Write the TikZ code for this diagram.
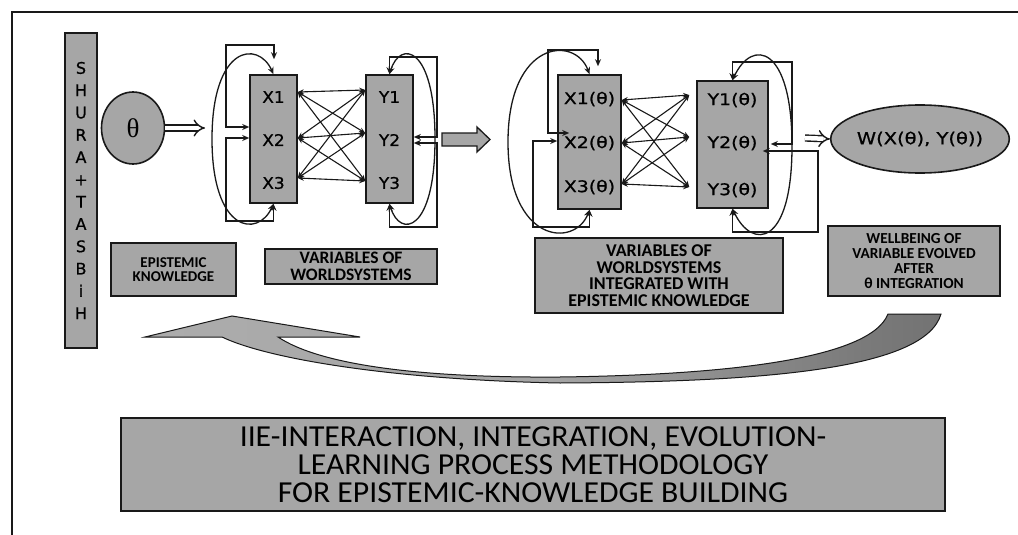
\documentclass[tikz,border=0pt]{standalone}
\usepackage{fontspec}
\setmainfont{Carlito}
\newfontfamily\titlefont[FakeStretch=1.04]{Carlito}
\newfontfamily\lettfont[FakeBold=0.8]{DejaVu Sans}
\newfontfamily\varfont[FakeStretch=1.06,FakeBold=0.8]{DejaVu Sans}
\newfontfamily\thetafont[FakeStretch=1.18,FakeBold=0.8]{DejaVu Sans}
\newfontfamily\serfont{Liberation Serif}
\usetikzlibrary{arrows.meta,shapes.geometric,calc}

\definecolor{boxgray}{RGB}{166,166,166}
\definecolor{inkline}{RGB}{25,25,25}
\pgfdeclarehorizontalshading{loopshade}{100bp}{color(0bp)=(black!30); color(50bp)=(black!35); color(70bp)=(black!52); color(100bp)=(black!70)}

\tikzset{
  gbox/.style={draw=inkline, line width=1.6pt, fill=boxgray},
  caption/.style={gbox, align=center, inner sep=0pt},
  varlab/.style={font=\varfont\fontsize{16}{18}\selectfont, inner sep=0pt},
  thlab/.style={font=\thetafont\fontsize{16}{18}\selectfont, inner sep=0pt},
  wire/.style={draw=inkline, line width=1.3pt},
  tip/.tip={Stealth[length=7pt,width=6pt]},
  bi/.style={wire, tip-tip},
  cross/.style={wire, line width=1.1pt, {Stealth[length=6pt,width=5pt]}-{Stealth[length=6pt,width=5pt]}},
  hollow/.style={draw=inkline, double=white, double distance=4.5pt, line width=1.4pt, -{Implies}},
}

\begin{document}
\begin{tikzpicture}[x=1pt,y=-1pt]
\useasboundingbox (0,0) rectangle (1018,535);
\fill[white] (0,0) rectangle (1018,535);

% frame
\draw[line width=2.2pt, inkline] (12,535) -- (12,12) -- (1018,12);

% vertical SHURA + TASBiH bar
\node[gbox, minimum width=32pt, minimum height=315pt, inner sep=0pt, align=center,
      font=\lettfont\fontsize{16}{22.3}\selectfont] (shura) at (81,190.5)
  {S\\H\\U\\R\\A\\+\\T\\A\\S\\B\\i\\H};

% epistemic knowledge
\node[gbox, ellipse, minimum width=63pt, minimum height=72pt, inner sep=0pt,
      font=\serfont\fontsize{27}{28}\selectfont] (theta) at (133,128) {θ};
\coordinate (thend) at (205,128);
\draw[hollow] (theta.east) -- (thend);

% world-system variables
\node[gbox, minimum width=47pt, minimum height=128pt, inner sep=0pt] (X) at (273.5,139) {};
\node[gbox, minimum width=47pt, minimum height=128pt, inner sep=0pt] (Y) at (389.5,139) {};
\node[varlab] (x1) at (273.5,97) {X1};
\node[varlab] (x2) at (273.5,140) {X2};
\node[varlab] (x3) at (273.5,183) {X3};
\node[varlab] (y1) at (389.5,97) {Y1};
\node[varlab] (y2) at (389.5,140) {Y2};
\node[varlab] (y3) at (389.5,183) {Y3};

\foreach \a in {92,138,178}
  \foreach \b in {90,133,181}
    \draw[cross] (X.east |- 0,\a) -- (Y.west |- 0,\b);

% feedback loops on X
\draw[bi] ($(X.north)+(0.5,-15)$) -- (274,45) -- (226,45) -- (226,127) -- (X.west |- 0,127);
\draw[bi] (X.west |- 0,138) -- (226,138) -- (226,221) -- (273.5,221) -- (X.south);
\draw[bi] (X.north) .. controls (258,40) and (212,45) .. (212,139)
                    .. controls (212,233) and (258,238) .. (X.south);
% feedback loops on Y
\draw[bi] (Y.east |- 0,137) -- (437,137) -- (437,57) -- (389.5,57) -- (Y.north);
\draw[bi] (Y.east |- 0,143) -- (437,143) -- (437,227) -- (389.5,227) -- (Y.south);
\draw[bi] (Y.north) .. controls (400,40) and (435,45) .. (435,139)
                    .. controls (435,233) and (400,238) .. (Y.south);

% block arrow
\draw[gbox, line width=1.3pt] (442,133) -- (477,133) -- (477,127) -- (490,139.5)
  -- (477,152) -- (477,146) -- (442,146) -- cycle;

% integrated variables
\node[gbox, minimum width=63pt, minimum height=134pt, inner sep=0pt] (XT) at (589.5,142) {};
\node[gbox, minimum width=71pt, minimum height=127pt, inner sep=0pt] (YT) at (732.5,144.5) {};
\node[thlab] (xt1) at (589.5,99) {X1(θ)};
\node[thlab] (xt2) at (589.5,143) {X2(θ)};
\node[thlab] (xt3) at (589.5,187) {X3(θ)};
\node[thlab] (yt1) at (732.5,100) {Y1(θ)};
\node[thlab] (yt2) at (732.5,143) {Y2(θ)};
\node[thlab] (yt3) at (732.5,190) {Y3(θ)};

\foreach \a in {100,143,184}
  \foreach \b in {95,137,187}
    \draw[cross] (XT.east |- 0,\a) -- ($(YT.west |- 0,\b)+(-7,0)$);

% feedback loops on X(theta)
\draw[bi] ($(XT.north)+(8.5,-8)$) -- (598,50) -- (548,50) -- (548,133) -- ($(XT.west |- 0,133)+(12,0)$);
\draw[bi] (XT.west |- 0,141) -- (533,141) -- (533,227) -- (589.5,227) -- (XT.south);
\draw[bi] (XT.north) .. controls (575,35) and (508,40) .. (508,142)
                     .. controls (508,244) and (575,248) .. (XT.south);
% feedback loops on Y(theta)
\draw[bi] ($(YT.east |- 0,144)+(2,0)$) -- (792,144) -- (792,62) -- (732.5,62) -- (YT.north);
\draw[bi] ($(YT.east |- 0,151)+(-6,0)$) -- (818,151) -- (818,232) -- (732.5,232) -- (YT.south);
\draw[bi] (YT.north) .. controls (752,38) and (792,45) .. (792,146)
                     .. controls (792,247) and (752,250) .. (YT.south);

% wellbeing
\node[gbox, ellipse, minimum width=146pt, minimum height=68pt, inner sep=0pt,
      font=\thetafont\fontsize{16.5}{18}\selectfont] (W) at (920,139) {W(X(θ), Y(θ))};
\coordinate (wstart) at (805,138);
\draw[hollow] (wstart) -- (W.west);

% captions
\node[caption, minimum width=125pt, minimum height=53pt, font=\bfseries\fontsize{15}{14.5}\selectfont]
  (ek) at (173.5,269.5) {EPISTEMIC\\KNOWLEDGE};
\node[caption, minimum width=172pt, minimum height=35pt, font=\bfseries\fontsize{17.5}{17}\selectfont]
  (vw) at (351,266.5) {VARIABLES OF\\WORLDSYSTEMS};
\node[caption, minimum width=248pt, minimum height=75pt, font=\bfseries\fontsize{18}{16.5}\selectfont]
  (vwi) at (659,275.5) {VARIABLES OF\\WORLDSYSTEMS\\INTEGRATED WITH\\EPISTEMIC KNOWLEDGE};
\node[caption, minimum width=172pt, minimum height=70pt, font=\bfseries\fontsize{15.3}{15}\selectfont]
  (wb) at (914,261) {WELLBEING OF\\VARIABLE EVOLVED\\AFTER\\θ INTEGRATION};

% learning loop arrow
\path[draw=inkline, line width=1pt, shading=loopshade]
  (145,337) -- (232,316) -- (360,337) -- (278,337)
  .. controls (320,365) and (420,378) .. (560,377)
  .. controls (720,375) and (870,360) .. (888,314)
  -- (941,314)
  .. controls (925,370) and (760,382) .. (560,383)
  .. controls (400,380) and (270,360) .. (222,337) -- cycle;

% title
\node[caption, minimum width=824pt, minimum height=93pt, font=\titlefont\fontsize{30.5}{28}\selectfont]
  (title) at (533,464.5) {IIE-INTERACTION, INTEGRATION, EVOLUTION-\\LEARNING PROCESS METHODOLOGY\\FOR EPISTEMIC-KNOWLEDGE BUILDING};
\end{tikzpicture}
\end{document}
